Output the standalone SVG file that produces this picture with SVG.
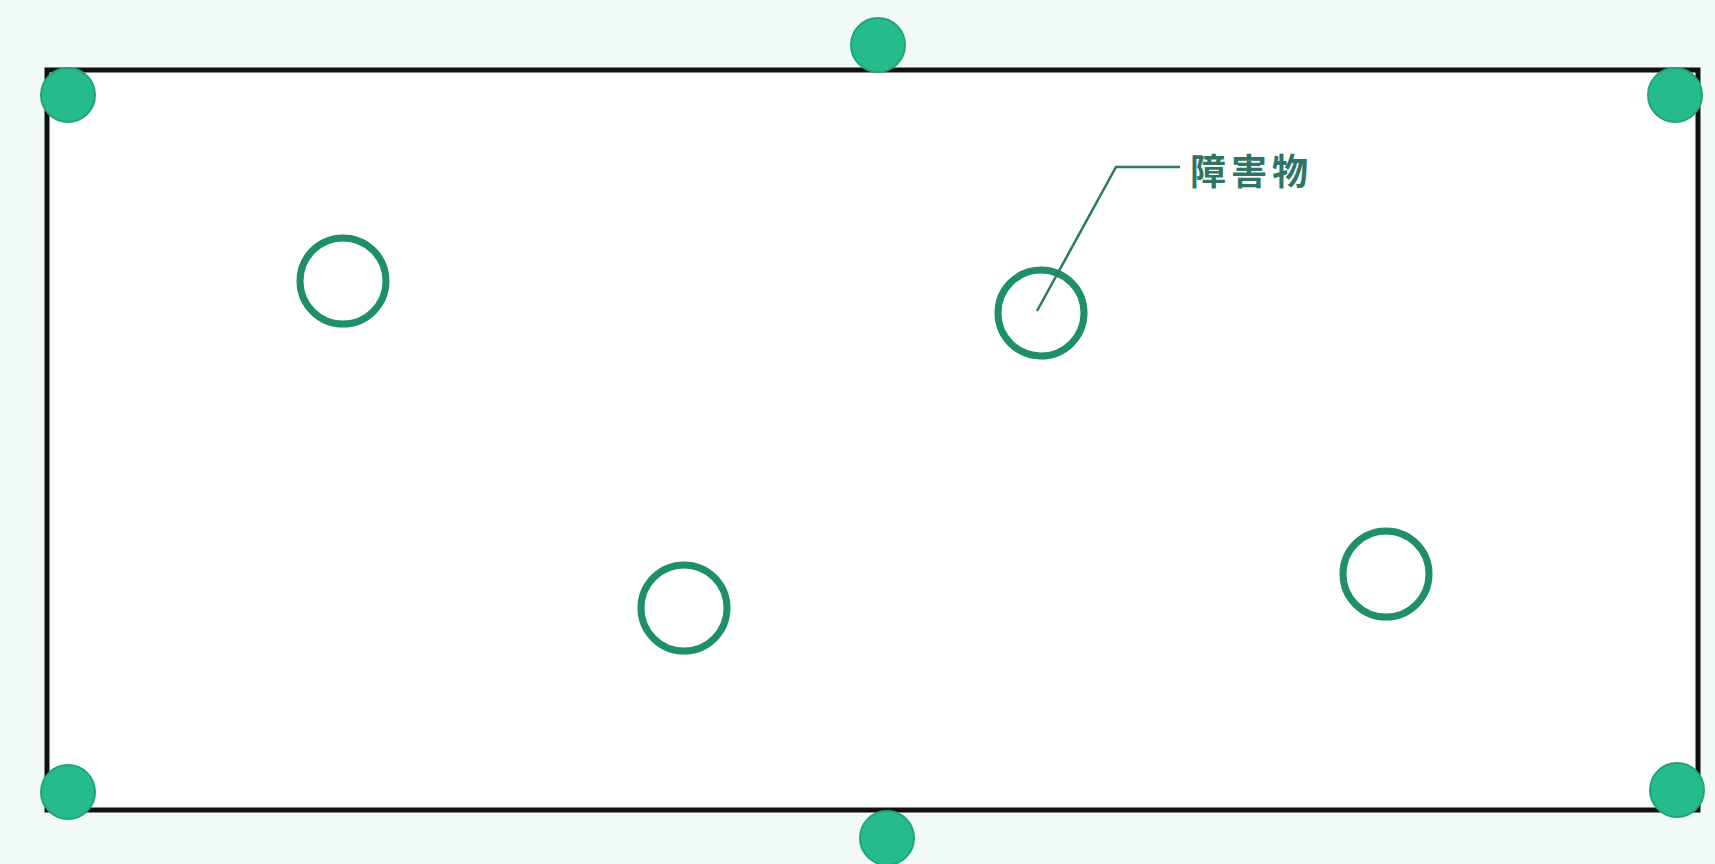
<svg xmlns="http://www.w3.org/2000/svg" width="1715" height="864" viewBox="0 0 1715 864">
<style>
.obs{fill:none;stroke:#1e8f68;stroke-width:7}
.post{fill:#25bb8c;stroke:#1fa57b;stroke-width:2}
.lead{fill:none;stroke:#2a7a68;stroke-width:2.5}
.lbl{font-family:"Noto Sans CJK JP","Noto Sans CJK SC",sans-serif;font-size:36px;font-weight:bold;fill:#2e7566;letter-spacing:5px}
</style>
<rect x="0" y="0" width="1715" height="864" fill="#f1faf6"/>
<g id="field">
<rect x="47" y="70" width="1651" height="740" fill="#ffffff" stroke="#111111" stroke-width="5"/>
</g>
<g id="obstacle1"><circle class="obs" cx="343" cy="281" r="43"/></g>
<g id="obstacle2"><circle class="obs" cx="1041" cy="313" r="43"/></g>
<g id="obstacle3"><circle class="obs" cx="684" cy="608" r="43"/></g>
<g id="obstacle4"><circle class="obs" cx="1386" cy="574" r="43"/></g>
<g id="post-tl"><circle class="post" cx="68" cy="95" r="27"/></g>
<g id="post-tm"><circle class="post" cx="878" cy="45" r="27"/></g>
<g id="post-tr"><circle class="post" cx="1675" cy="95" r="27"/></g>
<g id="post-bl"><circle class="post" cx="68" cy="792" r="27"/></g>
<g id="post-bm"><circle class="post" cx="887" cy="838" r="27"/></g>
<g id="post-br"><circle class="post" cx="1677" cy="790" r="27"/></g>
<g id="connectors">
<polyline class="lead" points="1037,311 1116,167 1180,167"/>
</g>
<g id="label"><text class="lbl" x="1190" y="185">障害物</text></g>
</svg>
